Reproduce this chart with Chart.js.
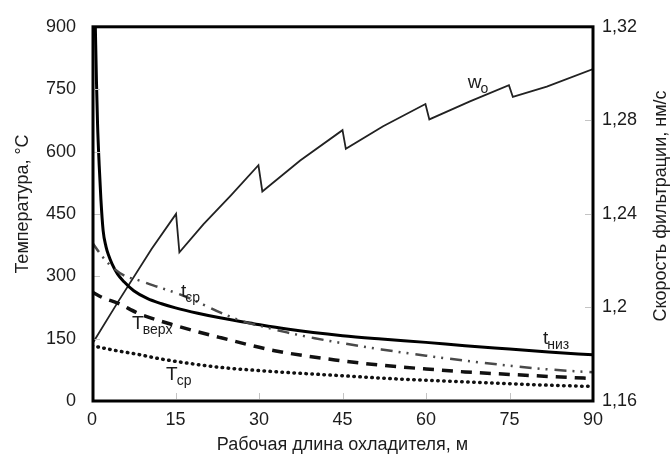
<!DOCTYPE html>
<html lang="ru">
<head>
<meta charset="utf-8">
<title>Температура и скорость фильтрации</title>
<script src="https://cdn.jsdelivr.net/npm/chart.js@4.4.1/dist/chart.umd.min.js"></script>
<style>
  html, body { margin: 0; padding: 0; background: #fff; }
  #grafik { display: block; }
</style>
</head>
<body>
<canvas id="grafik" width="670" height="459"></canvas>
<script>
// оси
const dlinaTiki = [0, 15, 30, 45, 60, 75, 90]
const tempTiki = [0, 150, 300, 450, 600, 750, 900]
const skorostTiki = [1.16, 1.2, 1.24, 1.28, 1.32]
const skorostPodpisi = ['1,16', '1,2', '1,24', '1,28', '1,32']

// t низ
const xTniz = [0.6, 0.8, 1.0, 1.3, 1.6, 2.0, 2.5, 3.0, 3.6, 4.6, 5.8, 7.5, 10, 12.5, 15, 19, 23, 29, 35, 45, 52, 60, 67, 75, 82, 90]
const tNiz = [900, 770, 665, 565, 485, 410, 372, 350, 330, 305, 286, 265, 246, 234, 224, 211, 200, 186, 173, 157, 149, 141, 133, 125, 118, 111]

// t ср
const xTsr = [0, 2, 4, 6, 8, 11, 14, 17, 20, 23, 27, 31, 35, 40, 45, 52, 60, 67, 75, 82, 90]
const tSr = [382, 345, 318, 300, 292, 278, 265, 250, 232, 213, 192, 178, 165, 151, 139, 124, 109, 97, 85, 76, 69]

// Т верх
const xTverh = [0, 2, 4.7, 8.3, 15.4, 23.2, 32.8, 44.7, 52, 60, 67, 75, 82, 90]
const tVerh = [262, 248, 235, 211, 180, 152, 121, 97, 86, 77, 70, 64, 59, 54]

// Т ср
const xTsrNar = [0, 4, 8.3, 12, 17.2, 23, 29.2, 37, 44.7, 52, 60, 67, 74.5, 82, 90]
const tSrNar = [133, 122, 112, 102, 91, 81, 74, 67, 61, 55, 50, 46, 42, 38, 35]

// скорость фильтрации wo, нм/с
const xW = [0, 4.7, 10.7, 15.1, 15.7, 20, 25, 29.9, 30.6, 37.4, 45.0, 45.6, 52.3, 59.9, 60.6, 67.9, 74.9, 75.6, 81.7, 90]
const wO = [1.1843, 1.2025, 1.225, 1.24, 1.2236, 1.2355, 1.248, 1.2608, 1.2496, 1.2628, 1.2758, 1.2678, 1.2775, 1.287, 1.2804, 1.2881, 1.295, 1.29, 1.2944, 1.3019]

const tochki = (xs, ys) => xs.map((x, i) => ({ x: x, y: ys[i] }))

const shrift = '"Liberation Sans", Arial, Helvetica, sans-serif'
const tsvetTeksta = '#1c1c1c'

Chart.defaults.font.family = shrift
Chart.defaults.color = tsvetTeksta

// подписи кривых: [x, температура, основной текст, индекс]
const podpisi = [
    [16.0, 251, 't', 'ср'],
    [7.2, 173, 'Т', 'верх'],
    [13.3, 50, 'Т', 'ср'],
    [81.0, 137, 't', 'низ'],
    [67.5, 753, 'w', 'o']
]

const oformlenie = {
    id: 'oformlenie',
    afterDatasetsDraw(chart) {
        const ctx = chart.ctx
        const a = chart.chartArea
        const sx = chart.scales.x
        const sy = chart.scales.y
        const sy1 = chart.scales.y1

        ctx.save()
        // короткие засечки внутри поля
        ctx.strokeStyle = '#c4c4c4'
        ctx.lineWidth = 1
        ctx.beginPath()
        dlinaTiki.forEach(v => {
            const px = Math.round(sx.getPixelForValue(v)) + 0.5
            ctx.moveTo(px, a.bottom - 2)
            ctx.lineTo(px, a.bottom - 8)
        })
        tempTiki.forEach(v => {
            const py = Math.round(sy.getPixelForValue(v)) + 0.5
            ctx.moveTo(a.left + 2, py)
            ctx.lineTo(a.left + 8, py)
        })
        skorostTiki.forEach(v => {
            const py = Math.round(sy1.getPixelForValue(v)) + 0.5
            ctx.moveTo(a.right - 2, py)
            ctx.lineTo(a.right - 8, py)
        })
        ctx.stroke()

        // рамка
        ctx.strokeStyle = '#000'
        ctx.lineWidth = 3
        ctx.strokeRect(a.left + 1, a.top, a.right - a.left - 1, a.bottom - a.top)

        // подписи кривых
        ctx.fillStyle = tsvetTeksta
        ctx.textBaseline = 'alphabetic'
        ctx.textAlign = 'left'
        podpisi.forEach(p => {
            const px = sx.getPixelForValue(p[0])
            const py = sy.getPixelForValue(p[1])
            ctx.font = '19px ' + shrift
            ctx.fillText(p[2], px, py)
            const w = ctx.measureText(p[2]).width
            ctx.font = '14px ' + shrift
            ctx.fillText(p[3], px + w - 1, py + 5)
        })

        // названия вертикальных осей
        ctx.font = '18px ' + shrift
        ctx.textAlign = 'center'
        ctx.textBaseline = 'middle'
        ctx.save()
        ctx.translate(23, 204)
        ctx.rotate(-Math.PI / 2)
        ctx.fillText('Температура, °С', 0, 0)
        ctx.restore()
        ctx.save()
        ctx.translate(661, 206)
        ctx.rotate(-Math.PI / 2)
        ctx.fillText('Скорость фильтрации, нм/с', 0, 0)
        ctx.restore()

        ctx.restore()
    }
}

const ctx = document.getElementById('grafik').getContext('2d')

const grafik = new Chart(ctx, {
    type: 'line',
    data: {
        datasets: [
            {
                label: 'Т ср',
                data: tochki(xTsrNar, tSrNar),
                yAxisID: 'y',
                borderColor: '#111',
                borderWidth: 3.5,
                borderDash: [0.5, 5.5],
                borderCapStyle: 'round',
                cubicInterpolationMode: 'monotone',
                pointRadius: 0
            },
            {
                label: 'Т верх',
                data: tochki(xTverh, tVerh),
                yAxisID: 'y',
                borderColor: '#111',
                borderWidth: 3.5,
                borderDash: [11, 8],
                cubicInterpolationMode: 'monotone',
                pointRadius: 0
            },
            {
                label: 't ср',
                data: tochki(xTsr, tSr),
                yAxisID: 'y',
                borderColor: '#4a4a4a',
                borderWidth: 2.5,
                borderDash: [12, 6, 2, 6, 2, 7],
                cubicInterpolationMode: 'monotone',
                pointRadius: 0
            },
            {
                label: 't низ',
                data: tochki(xTniz, tNiz),
                yAxisID: 'y',
                borderColor: '#000',
                borderWidth: 3,
                cubicInterpolationMode: 'monotone',
                pointRadius: 0
            },
            {
                label: 'wo',
                data: tochki(xW, wO),
                yAxisID: 'y1',
                borderColor: '#222',
                borderWidth: 1.8,
                tension: 0,
                pointRadius: 0
            }
        ]
    },
    options: {
        responsive: false,
        animation: false,
        devicePixelRatio: 1,
        layout: {
            padding: { top: 21, left: 0, right: 0, bottom: 0 }
        },
        plugins: {
            legend: { display: false },
            tooltip: { enabled: false }
        },
        scales: {
            x: {
                type: 'linear',
                min: 0,
                max: 90,
                afterBuildTicks: scale => { scale.ticks = dlinaTiki.map(v => ({ value: v })) },
                afterFit: scale => { scale.height = 58 },
                grid: { display: false, drawTicks: false },
                border: { display: false },
                ticks: {
                    font: { size: 18 },
                    padding: 8,
                    maxRotation: 0
                },
                title: {
                    display: true,
                    text: 'Рабочая длина охладителя, м',
                    font: { size: 18 },
                    padding: { top: 0, bottom: 3 }
                }
            },
            y: {
                position: 'left',
                min: 0,
                max: 900,
                afterBuildTicks: scale => { scale.ticks = tempTiki.map(v => ({ value: v })) },
                afterFit: scale => { scale.width = 92 },
                grid: { display: false, drawTicks: false },
                border: { display: false },
                ticks: {
                    font: { size: 18 },
                    padding: 16
                }
            },
            y1: {
                position: 'right',
                min: 1.16,
                max: 1.32,
                afterBuildTicks: scale => { scale.ticks = skorostTiki.map(v => ({ value: v })) },
                afterFit: scale => { scale.width = 77 },
                grid: { display: false, drawTicks: false },
                border: { display: false },
                ticks: {
                    font: { size: 18 },
                    padding: 9,
                    callback: (value, index) => skorostPodpisi[index]
                }
            }
        }
    },
    plugins: [oformlenie]
})
</script>
</body>
</html>
